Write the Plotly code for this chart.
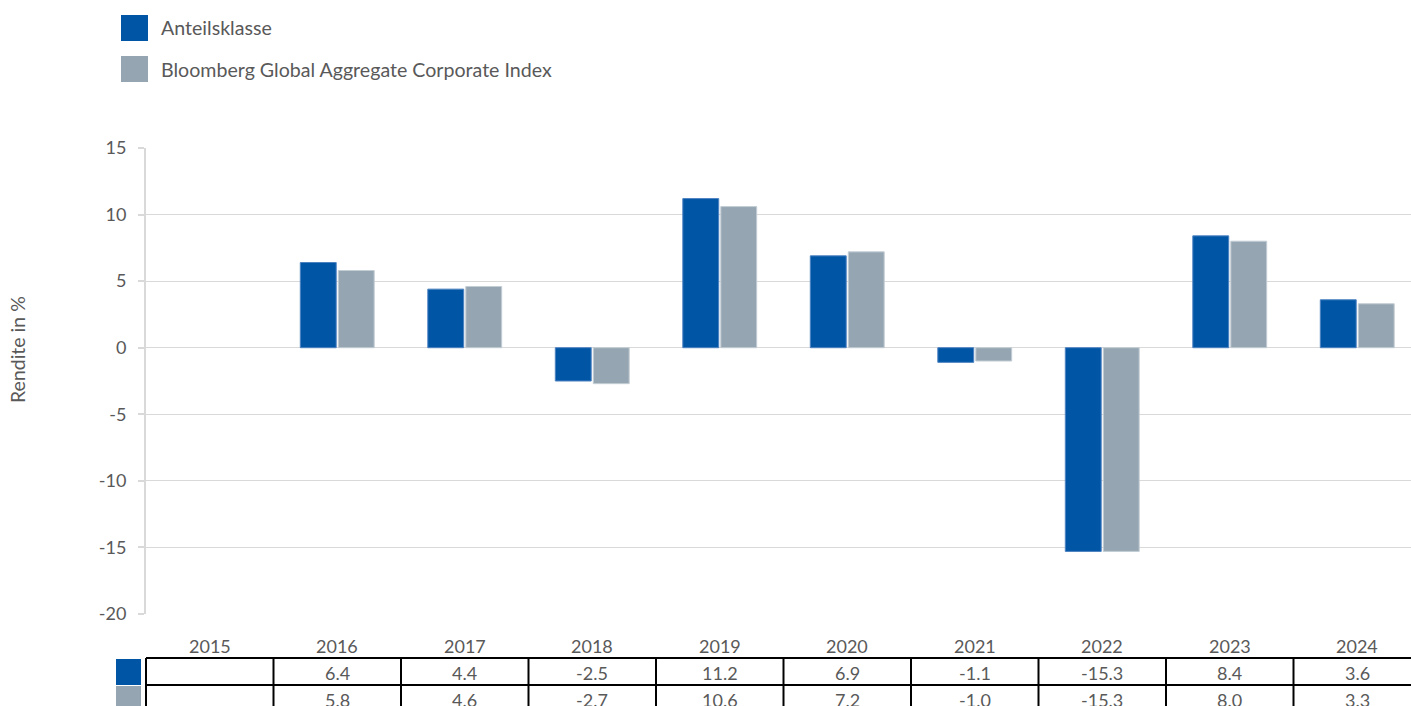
import plotly.graph_objects as go

# Jahresrenditen in %
years = ["2015", "2016", "2017", "2018", "2019", "2020", "2021", "2022", "2023", "2024"]
fund = [None, 6.4, 4.4, -2.5, 11.2, 6.9, -1.1, -15.3, 8.4, 3.6]
index = [None, 5.8, 4.6, -2.7, 10.6, 7.2, -1.0, -15.3, 8.0, 3.3]
series_names = ["Anteilsklasse", "Bloomberg Global Aggregate Corporate Index"]
y_ticks = [-20, -15, -10, -5, 0, 5, 10, 15]

BLUE = "#0055A5"
GRAY = "#95A6B2"
TEXT = "#595959"
GRID = "#D9D9D9"
FONT = "Lato"

W, H = 1411, 706
ML, MR, MT, MB = 146, 0, 148, 92
PW, PH = W - ML - MR, H - MT - MB
CAT_W = 127.5
X0 = -0.5
X1 = X0 + PW / CAT_W


def px_x(p):
    return (p - ML) / PW


def px_y(p):
    return (H - MB - p) / PH


def cat_x(v):
    return (v - X0) / (X1 - X0)


fig = go.Figure()
fig.add_trace(go.Bar(x=years, y=fund, name=series_names[0],
                     marker=dict(color=BLUE, line=dict(color="#4D82C0", width=1))))
fig.add_trace(go.Bar(x=years, y=index, name=series_names[1],
                     marker=dict(color=GRAY, line=dict(color="#C3CDD4", width=1))))

shapes = []
annotations = []

# legend
for i, (name, col) in enumerate(zip(series_names, [BLUE, GRAY])):
    top = 15 + i * 41
    shapes.append(dict(type="rect", xref="paper", yref="paper",
                       x0=px_x(121), x1=px_x(148), y0=px_y(top), y1=px_y(top + 26),
                       fillcolor=col, line=dict(width=0)))
    annotations.append(dict(xref="paper", yref="paper", x=px_x(159), y=px_y(top + 13),
                            text=name, showarrow=False, xanchor="left", yanchor="middle",
                            font=dict(family=FONT, size=19.6, color=TEXT)))

# y-axis title
annotations.append(dict(xref="paper", yref="paper", x=px_x(17), y=px_y(350),
                        text="Rendite in %", textangle=-90, showarrow=False,
                        xanchor="center", yanchor="middle",
                        font=dict(family=FONT, size=19.5, color=TEXT)))

# year labels
for i, yr in enumerate(years):
    annotations.append(dict(xref="paper", yref="paper", x=cat_x(i), y=px_y(646),
                            text=yr, showarrow=False, xanchor="center", yanchor="middle",
                            font=dict(family=FONT, size=18, color=TEXT)))

# data table below the chart
row_top, row_mid, row_bot = 658, 685, 712
shapes.append(dict(type="line", xref="paper", yref="paper", x0=0, x1=1,
                   y0=px_y(row_top), y1=px_y(row_top), line=dict(color="black", width=2)))
shapes.append(dict(type="line", xref="paper", yref="paper", x0=0, x1=1,
                   y0=px_y(row_mid), y1=px_y(row_mid), line=dict(color="black", width=2)))
for i in range(len(years)):
    xb = cat_x(i - 0.5)
    shapes.append(dict(type="line", xref="paper", yref="paper", x0=xb, x1=xb,
                       y0=px_y(row_top), y1=px_y(row_bot), line=dict(color="black", width=2)))
for r, (vals, col) in enumerate([(fund, BLUE), (index, GRAY)]):
    t = row_top + 1 + r * 27
    shapes.append(dict(type="rect", xref="paper", yref="paper",
                       x0=px_x(116), x1=px_x(141), y0=px_y(t), y1=px_y(t + 26),
                       fillcolor=col, line=dict(width=0)))
    for i, v in enumerate(vals):
        if v is None:
            continue
        annotations.append(dict(xref="paper", yref="paper", x=cat_x(i), y=px_y(t + 14),
                                text=f"{v:.1f}", showarrow=False, xanchor="center",
                                yanchor="middle",
                                font=dict(family=FONT, size=18, color=TEXT)))

fig.update_layout(
    width=W, height=H,
    margin=dict(l=ML, r=MR, t=MT, b=MB, pad=0),
    paper_bgcolor="white", plot_bgcolor="white",
    barmode="group", bargap=0.404, bargroupgap=0.055,
    showlegend=False,
    shapes=shapes, annotations=annotations,
    font=dict(family=FONT, color=TEXT),
)
fig.update_xaxes(type="category", range=[X0, X1], showticklabels=False, ticks="",
                 showgrid=False, showline=False, zeroline=False)
fig.update_yaxes(range=[-20, 15], tickmode="array", tickvals=y_ticks,
                 ticktext=[str(v) for v in y_ticks],
                 showgrid=True, gridcolor=GRID,
                 gridwidth=1, zeroline=True, zerolinecolor=GRID, zerolinewidth=1,
                 showline=True, linecolor=GRID, linewidth=2,
                 ticks="outside", ticklen=6, tickcolor=GRID, tickwidth=2,
                 ticklabelstandoff=8,
                 tickfont=dict(family=FONT, size=18, color=TEXT))

fig.write_html("out.html")
